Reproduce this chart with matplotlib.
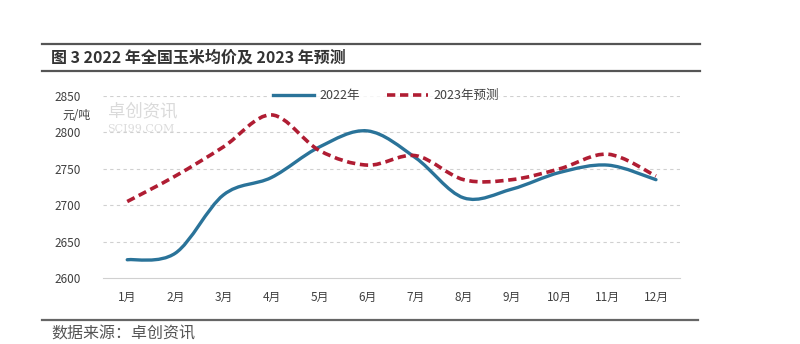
#!/usr/bin/env python3

import numpy as np
import matplotlib
matplotlib.use('Agg')
import matplotlib.pyplot as plt
from matplotlib.path import Path
from matplotlib.patches import PathPatch
from matplotlib.lines import Line2D

plt.rcParams['font.family'] = ['Noto Sans CJK SC', 'DejaVu Sans']

# Chart data
months = ['1月', '2月', '3月', '4月', '5月', '6月', '7月', '8月', '9月', '10月', '11月', '12月']
price_2022 = [2625, 2634, 2714, 2738, 2780, 2802, 2765, 2710, 2722, 2745, 2755, 2735]
forecast_2023 = [2705, 2740, 2780, 2824, 2775, 2755, 2768, 2735, 2735, 2750, 2770, 2740]
yticks = [2600, 2650, 2700, 2750, 2800, 2850]

BLUE = '#2A7399'
RED = '#B01D33'
DASH = (0, (2.3, 1.3))


def smooth_path(xs, ys):
    """
    Build a Bezier path through the points, like a spreadsheet 'smoothed line'.
    """
    pts = np.column_stack([xs, ys]).astype(float)
    verts = [pts[0]]
    codes = [Path.MOVETO]
    n = len(pts)
    for i in range(n - 1):
        p0 = pts[i - 1] if i > 0 else pts[i]
        p1 = pts[i]
        p2 = pts[i + 1]
        p3 = pts[i + 2] if i + 2 < n else pts[i + 1]
        c1 = p1 + (p2 - p0) / 6.0
        c2 = p2 - (p3 - p1) / 6.0
        verts += [c1, c2, p2]
        codes += [Path.CURVE4] * 3
    return Path(verts, codes)


def plot_chart():
    fig = plt.figure(figsize=(8, 3.44), dpi=100)
    ax = fig.add_axes([0.129, 0.192, 0.721, 0.529])

    x = np.arange(len(months))
    ax.set_xlim(-0.5, len(months) - 0.5)
    ax.set_ylim(yticks[0], yticks[-1])

    for y in yticks[1:]:
        ax.axhline(y, color='#d0d0d0', linestyle=(0, (3, 3)), linewidth=0.8, zorder=0)

    blue = PathPatch(smooth_path(x, price_2022), facecolor='none', edgecolor=BLUE,
                     linewidth=2.4, capstyle='round', zorder=3)
    red = PathPatch(smooth_path(x, forecast_2023), facecolor='none', edgecolor=RED,
                    linewidth=2.6, linestyle=DASH, zorder=4)
    ax.add_patch(blue)
    ax.add_patch(red)

    # proxy lines for the legend
    h1, = ax.plot([], [], color=BLUE, linewidth=2.4, label='2022年')
    h2, = ax.plot([], [], color=RED, linewidth=2.6, linestyle=DASH, label='2023年预测')
    leg = ax.legend(handles=[h1, h2], loc='center', bbox_to_anchor=(0.49, 1.0),
                    ncol=2, frameon=True, fontsize=9, handlelength=3.3,
                    columnspacing=2.2, borderpad=0.2, handletextpad=0.4)
    leg.get_frame().set_edgecolor('none')
    leg.get_frame().set_facecolor('white')
    for t in leg.get_texts():
        t.set_color('#404040')

    ax.set_xticks(x)
    ax.set_xticklabels(months, fontsize=8.5, color='#404040')
    ax.set_yticks(yticks)
    ax.set_yticklabels([str(v) for v in yticks], fontsize=8.5, color='#404040')
    ax.tick_params(length=0, pad=9)
    ax.tick_params(axis='y', pad=16)

    for side in ['top', 'right', 'left']:
        ax.spines[side].set_visible(False)
    ax.spines['bottom'].set_color('#d0d0d0')

    # faint watermark
    ax.text(0.008, 0.915, '卓创资讯', transform=ax.transAxes, fontsize=12.5,
            color='#dadada', ha='left', va='center', zorder=1)
    ax.text(0.006, 0.82, 'SCI99.COM', transform=ax.transAxes, fontsize=8,
            color='#dcdcdc', ha='left', va='center', family='DejaVu Serif', zorder=1)
    ax.text(-0.07, 0.895, '元/吨', transform=ax.transAxes, fontsize=8.5,
            color='#404040', ha='left', va='center', zorder=2)

    # report frame lines and texts
    fig.add_artist(Line2D([0.052, 0.875], [0.872, 0.872], color='#555555', linewidth=1.6))
    fig.add_artist(Line2D([0.052, 0.875], [0.794, 0.794], color='#555555', linewidth=1.6))
    fig.add_artist(Line2D([0.052, 0.873], [0.069, 0.069], color='#666666', linewidth=1.6))
    fig.text(0.064, 0.832, '图 3 2022 年全国玉米均价及 2023 年预测', fontsize=11.5,
             fontweight='bold', color='#333333', ha='left', va='center')
    fig.text(0.064, 0.03, '数据来源：卓创资讯', fontsize=11.5, color='#555555',
             ha='left', va='center')

    fig.savefig('out.png', dpi=100, facecolor='white')


if __name__ == "__main__":
    plot_chart()
